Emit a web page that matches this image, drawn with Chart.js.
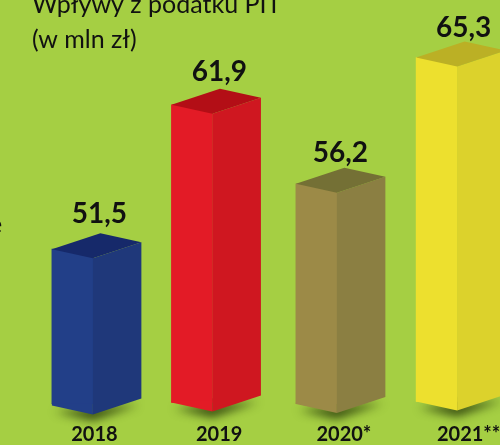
<!DOCTYPE html>
<html>
<head>
<meta charset="utf-8">
<style>
  html, body { margin: 0; padding: 0; width: 500px; height: 445px; overflow: hidden; background: #a5cf43; }
  #wrap { position: absolute; left: 0; top: -13px; }   /* title line is cut by the top edge in the original */
</style>
<script src="https://cdn.jsdelivr.net/npm/chart.js@4"></script>
</head>
<body>
<div id="wrap"><canvas id="bars" width="531" height="479"></canvas></div>
<script>
// data
var years = ["2018", "2019", "2020*", "2021**"];
var values = [51.5, 61.9, 56.2, 65.3];
var valueTexts = ["51,5", "61,9", "56,2", "65,3"];
var titleLines = ["Wpływy z podatku PIT", "(w mln zł)"];

// colours of the three visible faces
var frontColors = ["#223f88", "#e31b26", "#9c8a47", "#ede02e"];
var sideColors = ["#1f387a", "#cf1720", "#8b7f42", "#dcd22c"];
var topColors = ["#16296a", "#b30e16", "#747035", "#bbb025"];

// the bars in the original do not sit on a regular grid, small corrections per bar
var barShiftX = [-22, -27.2, -27.5, -32];
var barShiftY = [1.5, -1.5, 0, -2.5];
var labelShiftX = [27, 27.5, 24, 27];
var labelRise = [35, 33, 30.5, 30];

var frontW = 41, sideW = 48.5, skewDown = 9, skewUp = 16;

function poly(ctx, pts, color) {
    ctx.fillStyle = color;
    ctx.beginPath();
    ctx.moveTo(pts[0][0], pts[0][1]);
    for (var i = 1; i < pts.length; i++) ctx.lineTo(pts[i][0], pts[i][1]);
    ctx.closePath();
    ctx.fill();
}

var box3d = {
    id: "box3d",
    afterDatasetsUpdate: function(chart) {
        chart.getDatasetMeta(0).data.forEach(function(bar, i) {
            bar.x += barShiftX[i];
            bar.y += barShiftY[i];
            bar.base += barShiftY[i];
        });
    },
    beforeDatasetsDraw: function(chart) {   // soft shadow under the boxes
        var ctx = chart.ctx;
        chart.getDatasetMeta(0).data.forEach(function(bar) {
            var l = bar.x - frontW / 2, b = bar.base;
            ctx.save();
            ctx.shadowColor = "rgba(50,70,15,0.95)";
            ctx.shadowBlur = 10;
            ctx.shadowOffsetY = 7;
            poly(ctx, [[l + 3, b - 1], [l + frontW, b + skewDown - 1], [l + frontW + sideW - 3, b + skewDown - skewUp - 1]], "#5d7a22");
            ctx.restore();
        });
    },
    afterDatasetsDraw: function(chart) {
        var ctx = chart.ctx;
        chart.getDatasetMeta(0).data.forEach(function(bar, i) {
            var l = bar.x - frontW / 2, f = l + frontW, r = f + sideW;
            var t = bar.y, b = bar.base;
            poly(ctx, [[l, b - 2], [f, b - 2], [f, b + skewDown], [l, b]], frontColors[i]);
            poly(ctx, [[f, t + skewDown], [r, t + skewDown - skewUp], [r, b + skewDown - skewUp], [f, b + skewDown]], sideColors[i]);
            poly(ctx, [[l, t], [f, t + skewDown], [r, t + skewDown - skewUp], [l + sideW, t - skewUp]], topColors[i]);

            ctx.fillStyle = "#111";
            ctx.font = "bold 28px Lato";
            ctx.textAlign = "center";
            ctx.textBaseline = "middle";
            ctx.fillText(valueTexts[i], bar.x + labelShiftX[i], t - labelRise[i]);
        });
        // rest of a word cut off by the left edge
        ctx.fillStyle = "#111";
        ctx.font = "25px Lato";
        ctx.textAlign = "left";
        ctx.fillText("e", -11, 238);
    }
};

new Chart(document.getElementById("bars"), {
    type: "bar",
    plugins: [box3d],
    data: {
        labels: years,
        datasets: [{
            data: values,
            base: 40,
            backgroundColor: frontColors,
            borderWidth: 0,
            barThickness: frontW
        }]
    },
    options: {
        responsive: false,
        animation: false,
        layout: { padding: { left: 32, right: 0, top: 0, bottom: 0 } },
        plugins: {
            legend: { display: false },
            tooltip: { enabled: false },
            title: {
                display: true,
                text: titleLines,
                align: "start",
                color: "#111",
                padding: 0,
                font: { family: "Lato", size: 25, weight: "normal", lineHeight: 1.4 }
            }
        },
        scales: {
            x: {
                grid: { display: false, drawTicks: false },
                border: { display: false },
                ticks: {
                    color: "#111",
                    padding: 19,
                    autoSkip: false,
                    maxRotation: 0,
                    font: { family: "Lato", size: 20, weight: "bold" }
                }
            },
            y: { display: false, min: 40, max: 65.52 }
        }
    }
});
</script>
</body>
</html>
